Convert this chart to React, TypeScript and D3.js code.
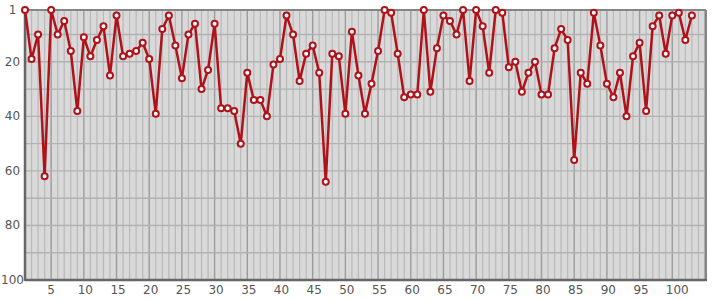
import React from "react";
import * as d3 from "d3";

const values: number[] = [
  1, 19, 10, 62, 1, 10, 5, 16, 38, 11,
  18, 12, 7, 25, 3, 18, 17, 16, 13, 19,
  39, 8, 3, 14, 26, 10, 6, 30, 23, 6,
  37, 37, 38, 50, 24, 34, 34, 40, 21, 19,
  3, 10, 27, 17, 14, 24, 64, 17, 18, 39,
  9, 25, 39, 28, 16, 1, 2, 17, 33, 32,
  32, 1, 31, 15, 3, 5, 10, 1, 27, 1,
  7, 24, 1, 2, 22, 20, 31, 24, 20, 32,
  32, 15, 8, 12, 56, 24, 28, 2, 14, 28,
  33, 24, 40, 18, 13, 38, 7, 3, 17, 3,
  2, 12, 3,
];
const xTicks: number[] = [5, 10, 15, 20, 25, 30, 35, 40, 45, 50, 55, 60, 65, 70, 75, 80, 85, 90, 95, 100];
const yTicks: number[] = [1, 20, 40, 60, 80, 100];
const yGrid: number[] = [10, 20, 30, 40, 50, 60, 70, 80, 90];

const W = 715;
const H = 300;
const left = 25;
const right = 706;
const top = 10;
const bottom = 280;

export default function App() {
  const x = d3.scaleLinear().domain([1, 105.16]).range([left, right]);
  const y = d3.scaleLinear().domain([1, 100]).range([top, bottom]);
  const line = d3
    .line<number>()
    .x((_, i) => x(i + 1))
    .y((d) => y(d));
  const vgrid = d3.range(2, 106);
  const lineColor = "#b0121a";
  const labelDx = (t: number) => (t >= 100 ? 5 : t >= 10 ? 1.5 : 0);
  return (
    <svg
      width={W}
      height={H}
      style={{ position: "absolute", left: 0, top: 0 }}
      fontFamily="DejaVu Sans, sans-serif"
    >
      <rect x={left} y={top} width={right - left} height={bottom - top} fill="#d9d9d9" />
      {vgrid.map((v) => (
        <line
          key={"v" + v}
          x1={x(v)}
          x2={x(v)}
          y1={top}
          y2={bottom}
          stroke={v % 5 === 0 ? "#9c9c9c" : "#b9b9b9"}
          strokeWidth={v % 5 === 0 ? 1.4 : 1.2}
        />
      ))}
      {yGrid.map((v) => (
        <line
          key={"h" + v}
          x1={left}
          x2={right}
          y1={y(v)}
          y2={y(v)}
          stroke="#b2b2b2"
          strokeWidth={1.4}
        />
      ))}
      <line x1={left} x2={right} y1={top} y2={top} stroke="#858585" strokeWidth={2} />
      <line x1={right} x2={right} y1={top} y2={bottom} stroke="#858585" strokeWidth={2} />
      <line x1={left} x2={left} y1={top - 1} y2={bottom + 1} stroke="#666" strokeWidth={2.5} />
      <line x1={left} x2={right + 1} y1={bottom} y2={bottom} stroke="#666" strokeWidth={2.5} />
      {yTicks.map((t) => (
        <text key={"yt" + t} x={12.5} y={y(t) + 4} textAnchor="middle" fontSize={12} fill="#555">
          {t}
        </text>
      ))}
      {xTicks.map((t) => (
        <text
          key={"xt" + t}
          x={x(t) + labelDx(t)}
          y={294}
          textAnchor="middle"
          fontSize={12}
          fill="#555"
        >
          {t}
        </text>
      ))}
      <path d={line(values) || ""} fill="none" stroke={lineColor} strokeWidth={2.5} strokeLinejoin="round" />
      {values.map((v, i) => (
        <circle
          key={"c" + i}
          cx={x(i + 1)}
          cy={y(v)}
          r={3}
          fill="#fff"
          stroke={lineColor}
          strokeWidth={2}
        />
      ))}
    </svg>
  );
}
